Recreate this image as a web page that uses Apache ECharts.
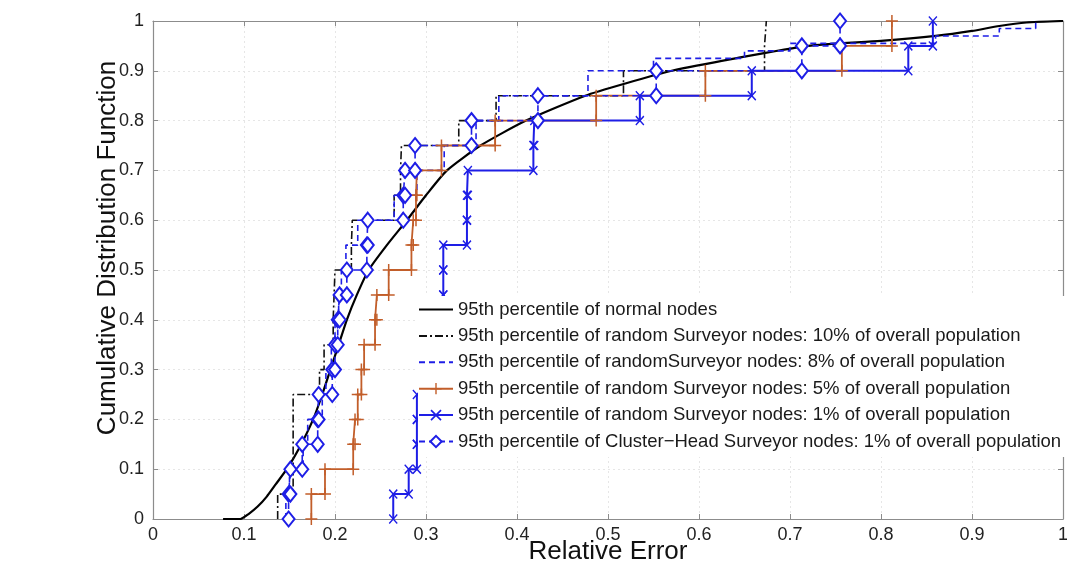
<!DOCTYPE html>
<html><head><meta charset="utf-8">
<script src="https://cdn.jsdelivr.net/npm/echarts/dist/echarts.min.js"></script>
<style>html,body{margin:0;padding:0;background:#fff}#c{width:1067px;height:564px}</style>
</head><body><div id="c"></div>
<script>
// ---- tick values ----
const xTicks = [0, 0.1, 0.2, 0.3, 0.4, 0.5, 0.6, 0.7, 0.8, 0.9, 1];
const yTicks = [0, 0.1, 0.2, 0.3, 0.4, 0.5, 0.6, 0.7, 0.8, 0.9, 1];

// ---- axis titles ----
const xTitle = 'Relative Error';
const yTitle = 'Cumulative Distribution Function';

// ---- series names ----
const names = [
  '95th percentile of normal nodes',
  '95th percentile of random Surveyor nodes: 10% of overall population',
  '95th percentile of randomSurveyor nodes: 8% of overall population',
  '95th percentile of random Surveyor nodes: 5% of overall population',
  '95th percentile of random Surveyor nodes: 1% of overall population',
  '95th percentile of Cluster\u2212Head Surveyor nodes: 1% of overall population'
];

// ---- normal nodes: smooth CDF curve ----
const normalX = [0.077,0.096,0.105,0.115,0.125,0.135,0.147,0.16,0.176,0.186,0.195,0.204,0.213,0.224,0.237,0.257,0.279,0.3,0.323,0.36,0.41,0.475,0.52,0.57,0.64,0.72,0.8,0.86,0.9,0.93,0.96,1.0];
const normalY = [0,0,0.01,0.025,0.045,0.07,0.1,0.14,0.2,0.25,0.3,0.35,0.4,0.45,0.5,0.55,0.6,0.65,0.7,0.75,0.8,0.85,0.875,0.9,0.925,0.95,0.96,0.97,0.98,0.99,0.997,1.0];

// ---- step CDFs: sample position (x) and cumulative level reached (y) ----
const s10X = [0.137,0.154,0.154,0.154,0.154,0.183,0.188,0.198,0.199,0.200,0.218,0.219,0.265,0.272,0.273,0.336,0.377,0.517,0.672,0.674];
const s10Y = [0.05,0.1,0.15,0.2,0.25,0.3,0.35,0.4,0.45,0.5,0.55,0.6,0.65,0.7,0.75,0.8,0.85,0.9,0.95,1.0];

const s8X = [0.146,0.150,0.165,0.170,0.186,0.190,0.196,0.200,0.204,0.207,0.212,0.225,0.265,0.290,0.320,0.355,0.380,0.478,0.550,0.650,0.700,0.860,0.930,0.970];
const s8Y = [0.05,0.1,0.15,0.2,0.25,0.3,0.35,0.4,0.45,0.5,0.55,0.6,0.65,0.7,0.75,0.8,0.85,0.9,0.925,0.94,0.955,0.97,0.985,1.0];

const s5X = [0.174,0.189,0.220,0.222,0.225,0.229,0.232,0.244,0.246,0.259,0.284,0.286,0.289,0.290,0.317,0.376,0.487,0.607,0.757,0.812];
const s5Y = [0.05,0.1,0.15,0.2,0.25,0.3,0.35,0.4,0.45,0.5,0.55,0.6,0.65,0.7,0.75,0.8,0.85,0.9,0.95,1.0];

const s1X = [0.264,0.281,0.290,0.290,0.290,0.300,0.305,0.310,0.319,0.319,0.319,0.345,0.345,0.346,0.418,0.419,0.535,0.658,0.830,0.857];
const s1Y = [0.05,0.1,0.15,0.2,0.25,0.3,0.35,0.4,0.45,0.5,0.55,0.6,0.65,0.7,0.75,0.8,0.85,0.9,0.95,1.0];

const chX = [0.149,0.151,0.164,0.181,0.182,0.197,0.200,0.203,0.205,0.213,0.235,0.236,0.275,0.277,0.288,0.350,0.423,0.553,0.713,0.755];
const chY = [0.05,0.1,0.15,0.2,0.25,0.3,0.35,0.4,0.45,0.5,0.55,0.6,0.65,0.7,0.75,0.8,0.85,0.9,0.95,1.0];

// build stair vertices (every vertex of the stair line)
function stairs(xs, ys) {
  const pts = [[xs[0], 0]];
  for (let i = 0; i < xs.length; i++) {
    pts.push([xs[i], ys[i]]);
    if (i + 1 < xs.length) pts.push([xs[i + 1], ys[i]]);
  }
  return pts;
}
function pairs(xs, ys) { return xs.map((x, i) => [x, ys[i]]); }

const ORANGE = '#C25E2A';
const BLUE = '#1E1EE6';
const FONT = 'Liberation Sans, Arial, Helvetica, sans-serif';
const plusPath = 'path://M5.25,0H6.75V12H5.25Z M0,5.25H12V6.75H0Z';
const crossPath = 'path://M0,1.3L1.3,0L12,10.7L10.7,12Z M10.7,0L12,1.3L1.3,12L0,10.7Z';

const chart = echarts.init(document.getElementById('c'), null, {renderer: 'canvas'});
const axisGray = '#8c8c8c';
const tickFmt = list => v => { const t = list.find(a => Math.abs(a - v) < 1e-9); return t === undefined ? '' : String(t); };
const option = {
  animation: false,
  backgroundColor: '#fff',
  grid: {left: 153, right: 4, top: 21, bottom: 45, containLabel: false, outerBoundsMode: 'none'},
  xAxis: [{
    type: 'value', min: 0, max: 1, interval: 0.1, position: 'bottom',
    axisLine: {show: true, onZero: false, lineStyle: {color: axisGray, width: 1.2}},
    axisTick: {show: true, inside: true, length: 5, lineStyle: {color: axisGray}},
    axisLabel: {color: '#222', fontSize: 18, fontFamily: FONT, margin: 7, formatter: tickFmt(xTicks)},
    splitLine: {show: true, lineStyle: {color: '#e6e6e6', type: [2, 3], width: 1}}
  }, {
    type: 'value', min: 0, max: 1, interval: 0.1, position: 'top',
    axisLine: {show: true, onZero: false, lineStyle: {color: axisGray, width: 1.2}},
    axisTick: {show: true, inside: true, length: 5, lineStyle: {color: axisGray}},
    axisLabel: {show: false}, splitLine: {show: false}
  }],
  yAxis: [{
    type: 'value', min: 0, max: 1, interval: 0.1, position: 'left',
    axisLine: {show: true, onZero: false, lineStyle: {color: axisGray, width: 1.2}},
    axisTick: {show: true, inside: true, length: 5, lineStyle: {color: axisGray}},
    axisLabel: {color: '#222', fontSize: 18, fontFamily: FONT, margin: 9, formatter: tickFmt(yTicks)},
    splitLine: {show: true, lineStyle: {color: '#e6e6e6', type: [2, 3], width: 1}}
  }, {
    type: 'value', min: 0, max: 1, interval: 0.1, position: 'right',
    axisLine: {show: true, onZero: false, lineStyle: {color: axisGray, width: 1.2}},
    axisTick: {show: true, inside: true, length: 5, lineStyle: {color: axisGray}},
    axisLabel: {show: false}, splitLine: {show: false}
  }],
  graphic: [{
    type: 'text', x: 108, y: 248, rotation: Math.PI / 2,
    style: {text: yTitle, fontSize: 26, fontFamily: FONT, fill: '#111',
      align: 'center', verticalAlign: 'middle'}
  }, {
    type: 'text', x: 608, y: 552,
    style: {text: xTitle, fontSize: 26, fontFamily: FONT, fill: '#111',
      align: 'center', verticalAlign: 'middle'}
  }],
  legend: {
    orient: 'vertical', left: 418, top: 296,
    itemWidth: 34, itemHeight: 14, itemGap: 7.4,
    padding: [4, 8, 6, 0], backgroundColor: '#fff', borderWidth: 0,
    textStyle: {fontSize: 18.5, fontFamily: FONT, color: '#1a1a1a', lineHeight: 18},
    data: [
      {name: names[0], itemStyle: {opacity: 0}},
      {name: names[1], itemStyle: {opacity: 0}},
      {name: names[2], itemStyle: {opacity: 0}},
      {name: names[3]},
      {name: names[4]},
      {name: names[5]}
    ]
  },
  series: [
    {name: names[0], type: 'line', data: pairs(normalX, normalY), symbol: 'none', smooth: 0.2,
      lineStyle: {color: '#000', width: 2.2}, itemStyle: {color: '#000'}},
    {name: names[1], type: 'line', data: stairs(s10X, s10Y), symbol: 'none',
      lineStyle: {color: '#111', width: 1.6, type: [8, 3, 2, 3]}, itemStyle: {color: '#111'}},
    {name: names[2], type: 'line', data: stairs(s8X, s8Y), symbol: 'none',
      lineStyle: {color: BLUE, width: 1.6, type: [6, 4]}, itemStyle: {color: BLUE}},
    {name: names[3], type: 'line', data: stairs(s5X, s5Y), symbol: plusPath, symbolSize: 12, showAllSymbol: true,
      lineStyle: {color: ORANGE, width: 1.8}, itemStyle: {color: ORANGE}},
    {name: names[4], type: 'line', data: stairs(s1X, s1Y), symbol: crossPath, symbolSize: [9, 10], showAllSymbol: true,
      lineStyle: {color: BLUE, width: 2}, itemStyle: {color: BLUE}},
    {name: names[5], type: 'line', data: stairs(chX, chY), symbol: 'diamond', symbolSize: [12, 15], showAllSymbol: true,
      lineStyle: {color: BLUE, width: 1.6, type: [6, 4]},
      itemStyle: {color: '#fff', borderColor: BLUE, borderWidth: 2}}
  ]
};
chart.setOption(option);
</script></body></html>
